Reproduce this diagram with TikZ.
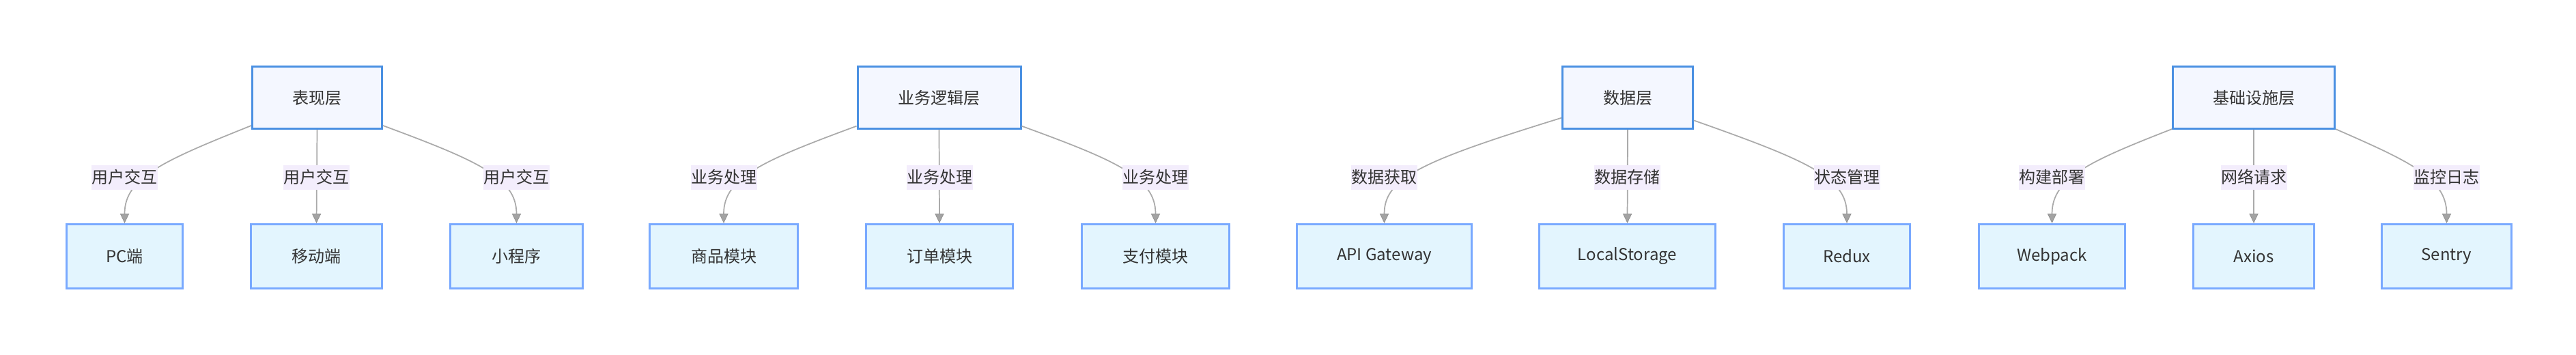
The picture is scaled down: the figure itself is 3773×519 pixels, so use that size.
\documentclass[tikz,border=0pt]{standalone}
\usepackage{fontspec}
\setmainfont{Noto Sans CJK SC}
\usetikzlibrary{arrows.meta,calc}

\definecolor{layerfill}{HTML}{F4F7FF}
\definecolor{layerline}{HTML}{4A90E2}
\definecolor{partfill}{HTML}{E3F5FE}
\definecolor{partline}{HTML}{79A9FF}
\definecolor{tagfill}{HTML}{F3EDFC}
\definecolor{ink}{HTML}{333333}
\definecolor{wirecol}{HTML}{AAAAAA}
\definecolor{tipcol}{HTML}{A3A3A3}

\tikzset{
	boxw/.style={minimum width=#1*0.75pt},
	layer/.style={draw=layerline, fill=layerfill, line width=2.25pt, minimum height=68.25pt, inner sep=0pt, text=ink},
	part/.style={draw=partline, fill=partfill, line width=2.25pt, minimum height=70.5pt, inner sep=0pt, text=ink},
	tag/.style={fill=tagfill, minimum width=72.75pt, minimum height=27pt, inner sep=0pt, text=ink},
	wire/.style={draw=wirecol, line width=1.3pt, -{Triangle[length=10.5pt, width=10pt, line width=0.5pt, color=black!45, fill=tipcol]}},
}

\begin{document}
\begin{tikzpicture}[x=0.75pt, y=-0.75pt, font=\fontsize{18}{22}\selectfont]
			%%%%% FRAME %%%%%
			\path[use as bounding box, fill=white] (0, 0) rectangle (3773, 519);
			
			%%%%% LAYERS %%%%%
			\node[layer, boxw=190] (pres) at (464.5, 143) {表现层};
			\node[layer, boxw=239] (biz) at (1375.5, 143) {业务逻辑层};
			\node[layer, boxw=191] (data) at (2384, 143) {数据层};
			\node[layer, boxw=237] (infra) at (3301, 143) {基础设施层};
			
			%%%%% PARTS %%%%%
			\node[part, boxw=170] (pc) at (182.5, 375.3) {PC端};
			\node[part, boxw=192] (mobile) at (463.5, 375.3) {移动端};
			\node[part, boxw=194] (mini) at (756.5, 375.3) {小程序};
			
			\node[part, boxw=217] (goods) at (1060, 375.3) {商品模块};
			\node[part, boxw=215] (order) at (1376, 375.3) {订单模块};
			\node[part, boxw=216] (pay) at (1692.5, 375.3) {支付模块};
			
			\node[part, boxw=256] (api) at (2027.5, 375.3) {API Gateway};
			\node[part, boxw=258] (local) at (2383.5, 375.3) {LocalStorage};
			\node[part, boxw=185] (redux) at (2705, 375.3) {Redux};
			
			\node[part, boxw=214] (webpack) at (3005.5, 375.3) {Webpack};
			\node[part, boxw=177] (axios) at (3301, 375.3) {Axios};
			\node[part, boxw=190] (sentry) at (3583.5, 375.3) {Sentry};
			
			%%%%% WIRES %%%%%
			\draw[wire] (pres.203) .. controls (240.5, 235) and (182.5, 260) .. (pc.north);
			\draw[wire] (pres.south) -- (mobile.north);
			\draw[wire] (pres.337) .. controls (698.5, 235) and (756.5, 260) .. (mini.north);
			
			\draw[wire] (biz.199) .. controls (1118, 235) and (1060, 260) .. (goods.north);
			\draw[wire] (biz.south) -- (order.north);
			\draw[wire] (biz.341) .. controls (1634.5, 235) and (1692.5, 260) .. (pay.north);
			
			\draw[wire] (data.197) .. controls (2085.5, 235) and (2027.5, 260) .. (api.north);
			\draw[wire] (data.south) -- (local.north);
			\draw[wire] (data.341) .. controls (2647, 235) and (2705, 260) .. (redux.north);
			
			\draw[wire] (infra.201) .. controls (3063.5, 235) and (3005.5, 260) .. (webpack.north);
			\draw[wire] (infra.south) -- (axios.north);
			\draw[wire] (infra.339) .. controls (3525.5, 235) and (3583.5, 260) .. (sentry.north);
			
			%%%%% TAGS %%%%%
			\node[tag] (tpc) at (182.5, 259.7) {用户交互};
			\node[tag] (tmobile) at (463.5, 259.7) {用户交互};
			\node[tag] (tmini) at (756.5, 259.7) {用户交互};
			
			\node[tag] (tgoods) at (1060, 259.7) {业务处理};
			\node[tag] (torder) at (1376, 259.7) {业务处理};
			\node[tag] (tpay) at (1692.5, 259.7) {业务处理};
			
			\node[tag] (tapi) at (2027.5, 259.7) {数据获取};
			\node[tag] (tlocal) at (2383.5, 259.7) {数据存储};
			\node[tag] (tredux) at (2705, 259.7) {状态管理};
			
			\node[tag] (twebpack) at (3005.5, 259.7) {构建部署};
			\node[tag] (taxios) at (3301, 259.7) {网络请求};
			\node[tag] (tsentry) at (3583.5, 259.7) {监控日志};
			
			%%%%% END %%%%%
\end{tikzpicture}
\end{document}
